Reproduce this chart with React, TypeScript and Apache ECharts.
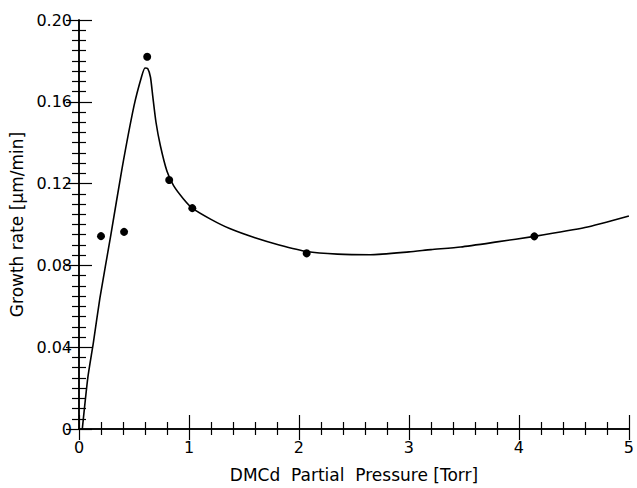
import React, { useEffect, useRef } from "react";
import * as echarts from "echarts";

// Measured data points (DMCd partial pressure [Torr], growth rate [um/min])
const pointX = [0.2, 0.41, 0.62, 0.82, 1.03, 2.07, 4.14];
const pointY = [0.0943, 0.0964, 0.182, 0.1218, 0.108, 0.0859, 0.0942];

// Fitted curve
const curveX = [0.03, 0.08, 0.13, 0.19, 0.29, 0.39, 0.5, 0.57, 0.6, 0.625, 0.65, 0.67, 0.7, 0.74, 0.8, 0.86, 0.95, 1.03, 1.2, 1.37, 1.6, 1.82, 2.07, 2.35, 2.65, 3.0, 3.2, 3.47, 3.8, 4.14, 4.6, 5.0];
const curveY = [0, 0.025, 0.042, 0.064, 0.095, 0.127, 0.158, 0.1725, 0.1765, 0.1762, 0.172, 0.163, 0.15, 0.1385, 0.126, 0.119, 0.1125, 0.108, 0.1025, 0.098, 0.0935, 0.09, 0.0868, 0.0855, 0.0852, 0.0866, 0.0877, 0.089, 0.0915, 0.0942, 0.0985, 0.1042];

const xMin = 0;
const xMax = 5;
const xStep = 1;
const yMin = 0;
const yMax = 0.2;
const yStep = 0.04;

const xName = "DMCd  Partial  Pressure [Torr]";
const yName = "Growth rate [μm/min]";

const FONT = "DejaVu Sans";
const INK = "#000";

export default function App() {
  const ref = useRef<HTMLDivElement>(null);
  useEffect(() => {
    if (!ref.current) return;
    const chart = echarts.init(ref.current, undefined, { renderer: "svg" });
    const axisLine = { show: true, lineStyle: { color: INK, width: 1.5 } };
    const baseX = {
      type: "value",
      min: xMin,
      max: xMax,
      interval: xStep,
      splitLine: { show: false },
      axisLine,
    };
    const baseY = {
      type: "value",
      min: yMin,
      max: yMax,
      interval: yStep,
      splitLine: { show: false },
      axisLine,
    };
    chart.setOption({
      animation: false,
      backgroundColor: "#fff",
      grid: { left: 79, right: 5, top: 20, bottom: 56, containLabel: false },
      xAxis: [
        {
          ...baseX,
          position: "bottom",
          name: xName,
          nameLocation: "middle",
          nameGap: 37,
          nameTextStyle: { fontFamily: FONT, fontSize: 17, color: INK },
          axisTick: { show: true, inside: true, length: 14, lineStyle: { color: INK, width: 1.2 } },
          minorTick: { show: true, splitNumber: 5, length: 7, lineStyle: { color: INK, width: 1.2 } },
          axisLabel: { fontFamily: FONT, fontSize: 16, color: INK, margin: 10 },
        },
        {
          ...baseX,
          position: "top",
          axisTick: { show: true, inside: true, length: 11, lineStyle: { color: INK, width: 1.2 } },
          minorTick: { show: true, splitNumber: 5, length: 6, lineStyle: { color: INK, width: 1.2 } },
          axisLabel: { show: false },
        },
      ],
      yAxis: [
        {
          ...baseY,
          position: "left",
          name: yName,
          nameLocation: "middle",
          nameGap: 48,
          nameRotate: 90,
          nameTextStyle: { fontFamily: FONT, fontSize: 17, color: INK },
          axisTick: { show: true, inside: true, length: 13, lineStyle: { color: INK, width: 1.2 } },
          minorTick: { show: true, splitNumber: 8, length: 7, lineStyle: { color: INK, width: 1.2 } },
          axisLabel: {
            fontFamily: FONT,
            fontSize: 16,
            color: INK,
            margin: 7,
            formatter: (v: number) => (v === 0 ? "0" : v.toFixed(2)),
          },
        },
        {
          ...baseY,
          position: "right",
          axisTick: { show: true, inside: true, length: 13, lineStyle: { color: INK, width: 1.2 } },
          minorTick: { show: true, splitNumber: 8, length: 7, lineStyle: { color: INK, width: 1.2 } },
          axisLabel: { show: false },
        },
      ],
      series: [
        {
          type: "line",
          xAxisIndex: 0,
          yAxisIndex: 0,
          data: curveX.map((x, i) => [x, curveY[i]]),
          showSymbol: false,
          smooth: 0.2,
          lineStyle: { color: INK, width: 1.6 },
          silent: true,
        },
        {
          type: "scatter",
          xAxisIndex: 0,
          yAxisIndex: 0,
          data: pointX.map((x, i) => [x, pointY[i]]),
          symbol: "circle",
          symbolSize: 8,
          itemStyle: { color: INK, opacity: 1 },
          silent: true,
        },
      ],
    });
    return () => chart.dispose();
  }, []);
  return <div ref={ref} style={{ width: 637, height: 488, position: "absolute", left: 0, top: 0 }} />;
}
